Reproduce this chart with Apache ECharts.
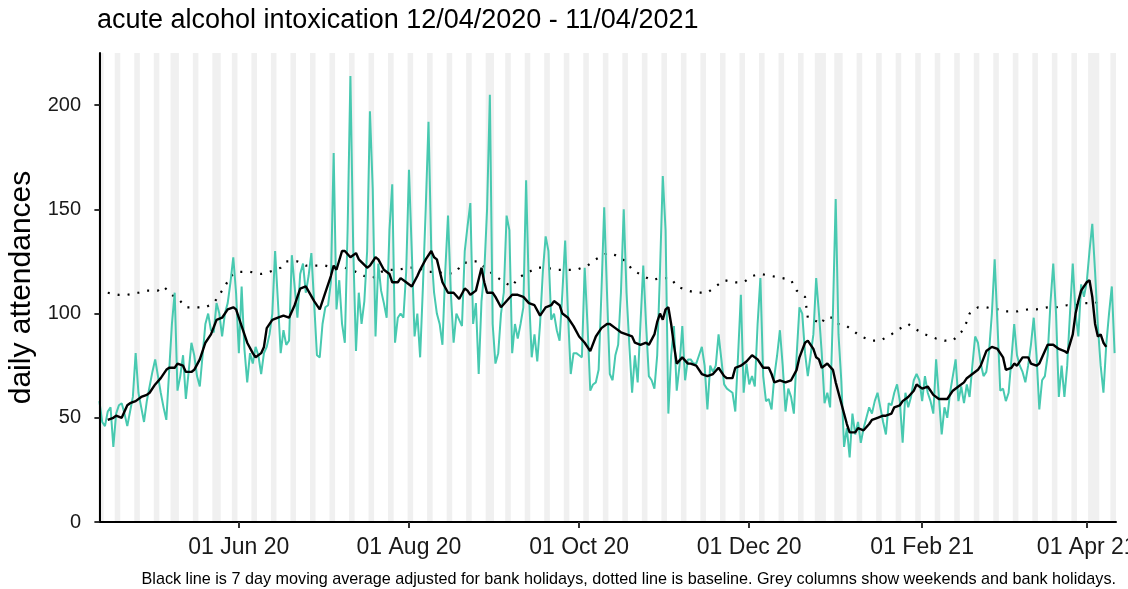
<!DOCTYPE html>
<html>
<head>
<meta charset="utf-8">
<title>acute alcohol intoxication</title>
<script src="https://cdn.jsdelivr.net/npm/echarts@6/dist/echarts.min.js"></script>
<style>
    html, body { margin: 0; padding: 0; background: #fff; }
    #chart { width: 1128px; height: 589px; }
</style>
</head>
<body>
<div id="chart"></div>
<script>
const START = Date.UTC(2020, 3, 12)
const DAYS = 365
const MONTHS = ['Jan', 'Feb', 'Mar', 'Apr', 'May', 'Jun', 'Jul', 'Aug', 'Sep', 'Oct', 'Nov', 'Dec']

// daily attendances, one value per day from 12/04/2020
const dailyAttendances = [
    58, 48, 46, 53, 55, 36, 52, 56, 57, 52,
    46, 53, 60, 81, 62, 55, 48, 58, 65, 72,
    78, 70, 62, 55, 49, 72, 95, 110, 63, 70,
    80, 59, 72, 86, 80, 70, 65, 80, 95, 100,
    92, 91, 105, 100, 89, 100, 105, 115, 127, 110,
    81, 113, 83, 67, 81, 76, 84, 80, 71, 81,
    84, 90, 100, 130, 106, 81, 92, 85, 87, 128,
    113, 98, 119, 124, 110, 118, 129, 105, 80, 79,
    95, 103, 104, 115, 177, 102, 116, 95, 86, 140,
    214, 132, 82, 110, 95, 106, 130, 197, 160, 89,
    124, 111, 105, 98, 140, 162, 86, 98, 100, 98,
    120, 169, 130, 89, 100, 79, 113, 150, 192, 130,
    110, 100, 95, 85, 120, 147, 110, 86, 100, 97,
    94, 130, 142, 153, 95, 105, 71, 106, 120, 150,
    205, 95, 76, 81, 100, 110, 147, 140, 81, 95,
    88, 95, 103, 164, 110, 79, 90, 77, 95, 120,
    137, 130, 97, 100, 92, 87, 110, 135, 100, 71,
    81, 81, 80, 79, 122, 95, 63, 66, 67, 73,
    110, 151, 110, 71, 68, 80, 85, 110, 150, 110,
    85, 62, 80, 67, 95, 123, 95, 70, 68, 64,
    80, 120, 166, 140, 52, 80, 94, 63, 75, 94,
    68, 78, 78, 76, 76, 80, 84, 75, 54, 75,
    72, 75, 90, 78, 66, 64, 63, 62, 53, 80,
    109, 62, 76, 66, 70, 65, 95, 117, 70, 58,
    59, 54, 70, 80, 92, 75, 53, 64, 60, 52,
    80, 103, 100, 81, 70, 80, 90, 117, 100, 81,
    57, 62, 55, 100, 155, 90, 68, 36, 45, 31,
    52, 42, 48, 38, 45, 50, 55, 52, 58, 62,
    55, 48, 42, 57, 56, 62, 66, 58, 38, 62,
    55, 60, 68, 71, 68, 58, 70, 62, 58, 52,
    78, 60, 42, 55, 50, 62, 70, 78, 58, 65,
    57, 66, 60, 75, 89, 86, 76, 70, 72, 82,
    100, 126, 95, 63, 64, 58, 62, 78, 95, 80,
    75, 72, 67, 75, 85, 98, 80, 54, 68, 70,
    80, 105, 124, 100, 60, 75, 60, 75, 100, 124,
    100, 89, 114, 108, 115, 130, 143, 120, 94, 75,
    62, 85, 100, 113, 81
]

// 7 day moving average, [day index, value]
const movingAverage = [
    [3, 49], [5, 50], [6, 51], [8, 50], [10, 56], [11, 57], [13, 58], [15, 60], [17, 61], [18, 62],
    [20, 66], [22, 69], [24, 73], [25, 74], [27, 74], [28, 76], [30, 75], [31, 72], [33, 72], [34, 73],
    [36, 78], [38, 86], [40, 90], [42, 97], [44, 98], [46, 102], [48, 103], [49, 102], [51, 94], [53, 86],
    [55, 81], [56, 79], [58, 81], [59, 84], [60, 93], [62, 97], [64, 98], [66, 99], [68, 98], [70, 104],
    [72, 112], [74, 113], [77, 106], [79, 102], [81, 110], [83, 118], [84, 123], [85, 121], [87, 130], [88, 130],
    [90, 127], [92, 129], [93, 126], [96, 122], [97, 123], [99, 127], [100, 126], [102, 121], [104, 119], [105, 115],
    [107, 115], [108, 117], [110, 115], [112, 113], [114, 118], [115, 121], [117, 126], [119, 130], [120, 127], [121, 126],
    [123, 115], [125, 110], [127, 110], [129, 107], [131, 112], [132, 111], [133, 109], [135, 111], [137, 122], [138, 115],
    [139, 110], [141, 110], [142, 108], [144, 103], [146, 106], [148, 109], [150, 109], [152, 108], [154, 105], [156, 104],
    [158, 99], [160, 103], [162, 104], [163, 106], [165, 104], [166, 100], [168, 98], [170, 94], [172, 89], [174, 86],
    [176, 82], [178, 89], [180, 93], [182, 95], [183, 95], [185, 93], [187, 91], [189, 90], [191, 89], [192, 86],
    [194, 85], [196, 86], [197, 85], [199, 90], [200, 96], [201, 100], [202, 97], [203, 102], [204, 103], [205, 95],
    [206, 85], [207, 76], [209, 79], [211, 76], [212, 76], [214, 75], [216, 71], [218, 70], [220, 71], [222, 74],
    [224, 70], [225, 69], [227, 69], [228, 74], [230, 75], [232, 77], [234, 80], [236, 78], [238, 74], [240, 74],
    [241, 71], [242, 67], [244, 68], [246, 67], [248, 68], [250, 73], [251, 79], [253, 86], [254, 87], [256, 83],
    [257, 79], [258, 78], [259, 74], [261, 76], [263, 73], [264, 67], [266, 57], [268, 47], [269, 43], [271, 43],
    [272, 45], [274, 44], [276, 47], [277, 49], [279, 50], [281, 51], [282, 51], [284, 52], [285, 55], [287, 56],
    [288, 58], [290, 60], [292, 63], [293, 66], [295, 64], [297, 65], [299, 61], [301, 59], [303, 59], [304, 59],
    [306, 63], [308, 65], [310, 67], [311, 69], [313, 71], [315, 73], [316, 75], [318, 82], [320, 84], [322, 83],
    [324, 79], [325, 73], [327, 74], [328, 76], [329, 75], [331, 79], [333, 79], [334, 76], [336, 75], [337, 76],
    [339, 82], [340, 85], [342, 85], [344, 83], [346, 82], [347, 81], [349, 90], [350, 100], [351, 106], [352, 111],
    [354, 115], [355, 116], [356, 108], [357, 95], [358, 89], [359, 90], [360, 86], [361, 84]
]

// baseline, [day index, value]
const baseline = [
    [3, 110], [7, 109], [10, 109], [14, 110], [17, 111], [21, 111], [23, 113], [26, 109], [29, 106], [31, 103],
    [35, 103], [38, 103], [41, 105], [43, 109], [45, 113], [47, 118], [50, 120], [54, 120], [58, 119], [61, 120],
    [65, 122], [67, 125], [71, 125], [74, 123], [78, 123], [81, 123], [84, 122], [88, 122], [92, 120], [95, 118],
    [98, 117], [101, 120], [104, 121], [107, 121], [111, 122], [114, 122], [118, 120], [121, 120], [125, 119], [128, 120],
    [130, 124], [133, 125], [136, 125], [139, 121], [142, 118], [145, 115], [148, 113], [150, 117], [154, 120], [157, 122],
    [160, 122], [164, 121], [168, 121], [171, 121], [175, 123], [178, 126], [182, 129], [185, 128], [189, 125], [191, 121],
    [195, 118], [198, 116], [201, 117], [205, 117], [207, 113], [211, 111], [214, 110], [218, 110], [221, 113], [224, 116],
    [228, 115], [231, 115], [234, 118], [237, 119], [241, 118], [245, 117], [248, 116], [250, 111], [253, 108], [254, 98],
    [256, 97], [259, 95], [260, 98], [263, 98], [265, 95], [268, 94], [270, 92], [273, 89], [277, 87], [280, 87],
    [284, 90], [286, 92], [290, 95], [292, 93], [296, 90], [300, 88], [303, 87], [306, 87], [309, 91], [311, 96],
    [312, 100], [315, 103], [318, 103], [322, 102], [325, 101], [329, 101], [333, 102], [336, 102], [340, 103], [343, 103],
    [347, 104], [350, 104], [353, 105], [357, 105], [360, 107]
]

const tickDates = ['2020-06-01', '2020-08-01', '2020-10-01', '2020-12-01', '2021-02-01', '2021-04-01']
const bankHolidays = ['2020-04-13', '2020-05-08', '2020-05-25', '2020-08-31', '2020-12-25', '2020-12-28', '2021-01-01', '2021-04-02', '2021-04-05']
const yTicks = [0, 50, 100, 150, 200]

const dayIndex = (iso) => {
    const [y, m, d] = iso.split('-').map(Number)
    return Math.round((Date.UTC(y, m - 1, d) - START) / 86400000)
}
const dayLabel = (i) => {
    const dt = new Date(START + Math.round(i) * 86400000)
    const dd = String(dt.getUTCDate()).padStart(2, '0')
    return dd + ' ' + MONTHS[dt.getUTCMonth()] + ' ' + String(dt.getUTCFullYear()).slice(2)
}

// grey columns: weekends + bank holidays, merged into runs
const greySet = new Set(bankHolidays.map(dayIndex))
for (let i = 0; i < DAYS; i++) {
    const wd = new Date(START + i * 86400000).getUTCDay()
    if (wd === 0 || wd === 6) greySet.add(i)
}
const greyDays = Array.from(greySet).sort((a, b) => a - b)
const greyRuns = []
greyDays.forEach((d) => {
    const last = greyRuns[greyRuns.length - 1]
    if (last && last[1] === d - 1) last[1] = d
    else greyRuns.push([d, d])
})

const FONT = '"Liberation Sans", Arial, sans-serif'
const tickIdx = tickDates.map(dayIndex)

const chartInstance = echarts.init(document.getElementById('chart'))

chartInstance.setOption({
    animation: false,
    backgroundColor: '#fff',
    textStyle: { fontFamily: FONT },
    title: {
        text: 'acute alcohol intoxication 12/04/2020 - 11/04/2021',
        left: 97,
        top: 7,
        padding: 0,
        textStyle: { fontFamily: FONT, fontSize: 27, fontWeight: 'normal', color: '#000' }
    },
    grid: { left: 98, right: 12, top: 53, bottom: 67, containLabel: false, outerBoundsMode: 'none' },
    xAxis: {
        type: 'value',
        min: -0.5,
        max: DAYS - 0.5,
        z: 10,
        axisLine: { show: true, onZero: false, lineStyle: { color: '#000', width: 2 } },
        axisTick: {
            show: true,
            length: 6,
            customValues: tickIdx,
            lineStyle: { color: '#333', width: 2 }
        },
        axisLabel: {
            customValues: tickIdx,
            formatter: (v) => dayLabel(v),
            fontSize: 23,
            color: '#1a1a1a',
            margin: 14
        },
        splitLine: { show: false }
    },
    yAxis: {
        type: 'value',
        min: 0,
        max: 225,
        z: 10,
        axisLine: { show: true, lineStyle: { color: '#000', width: 2 } },
        axisTick: {
            show: true,
            length: 5,
            customValues: yTicks,
            lineStyle: { color: '#333', width: 2 }
        },
        axisLabel: {
            customValues: yTicks,
            fontSize: 20,
            color: '#1a1a1a',
            margin: 17
        },
        splitLine: { show: false },
        name: 'daily attendances',
        nameLocation: 'middle',
        nameRotate: 90,
        nameGap: 56,
        nameTextStyle: { fontSize: 30, color: '#000', fontFamily: FONT }
    },
    graphic: [{
        type: 'text',
        right: 12,
        bottom: 1,
        style: {
            text: 'Black line is 7 day moving average adjusted for bank holidays, dotted line is baseline. Grey columns show weekends and bank holidays.',
            font: '16.2px ' + FONT,
            fill: '#000'
        }
    }],
    series: [
        {
            name: 'columns',
            type: 'line',
            data: [],
            silent: true,
            z: 1,
            markArea: {
                silent: true,
                itemStyle: { color: '#f0f0f0' },
                data: greyRuns.map(([a, b]) => [{ xAxis: a - 0.5 }, { xAxis: b + 0.5 }])
            }
        },
        {
            name: 'baseline',
            type: 'line',
            data: baseline,
            showSymbol: false,
            silent: true,
            z: 3,
            lineStyle: { color: '#000', width: 2.2, type: [2, 8] }
        },
        {
            name: 'daily',
            type: 'line',
            data: dailyAttendances.map((v, i) => [i, v]),
            showSymbol: false,
            silent: true,
            z: 3,
            lineStyle: { color: '#48c9b0', width: 2 }
        },
        {
            name: 'moving average',
            type: 'line',
            data: movingAverage,
            showSymbol: false,
            silent: true,
            z: 4,
            lineStyle: { color: '#000', width: 2.4 }
        }
    ]
})
</script>
</body>
</html>
